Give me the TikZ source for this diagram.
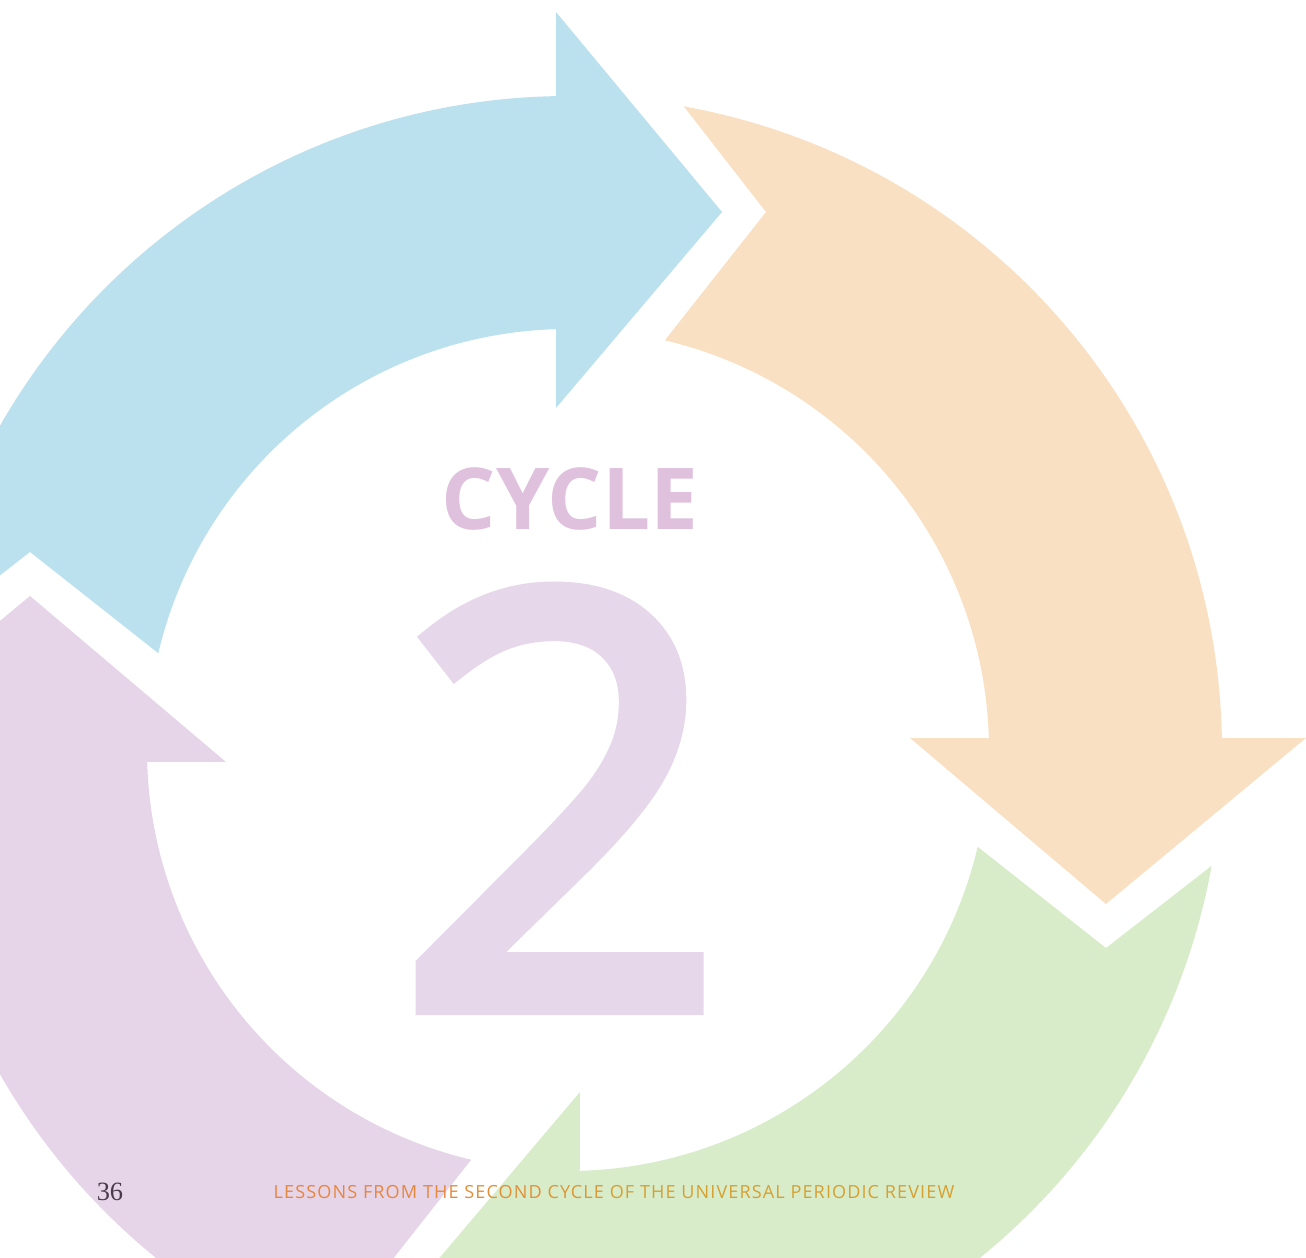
\documentclass[tikz,border=0pt]{standalone}
\usepackage{fontspec}
\usepackage{tikz}
\usetikzlibrary{positioning}
\newfontfamily\headfont{Open Sans}
\newfontfamily\numfont{Open Sans}[FakeBold=3.5]
\newfontfamily\runfont{Open Sans}[LetterSpace=6]
\newfontfamily\pagefont{Liberation Serif}
\definecolor{arrowblue}{RGB}{187,224,238}
\definecolor{arrowpeach}{RGB}{250,224,194}
\definecolor{arrowgreen}{RGB}{216,236,202}
\definecolor{arrowpink}{RGB}{230,212,232}
\definecolor{cycletext}{RGB}{223,192,221}
\definecolor{numbertext}{RGB}{230,216,234}
\definecolor{footorange}{RGB}{232,134,60}
\definecolor{footgold}{RGB}{214,160,48}
\definecolor{pagetext}{RGB}{74,56,76}

\begin{document}
\begin{tikzpicture}[
    x=0.02cm, y=0.02cm,
    title/.style={font=\headfont\bfseries\fontsize{48.6}{50}\selectfont, text=cycletext, inner sep=0pt, anchor=base},
    bignum/.style={font=\numfont\fontsize{325}{325}\selectfont, text=numbertext, inner sep=0pt, anchor=base},
    running/.style={font=\runfont\fontsize{10.3}{12}\selectfont, inner sep=0pt, anchor=base},
    pageno/.style={font=\pagefont\fontsize{15}{17}\selectfont, text=pagetext, inner sep=0pt, anchor=base}
]
    \useasboundingbox (-568,-508) rectangle (738,750);
    \clip (-568,-508) rectangle (738,750);

    % Arrows (one shape, turned a quarter each time)
    \foreach \ang/\col in {0/arrowblue, -90/arrowpeach, -180/arrowgreen, -270/arrowpink} {
        \fill[\col, rotate=\ang] (91.05:654) -- (-12,738) -- (154,538) -- (-12,342)
            -- (91.6:421) arc[start angle=91.6, end angle=166.7, radius=421]
            -- (-538,198) -- (169.8:654) arc[start angle=169.8, end angle=91.05, radius=654] -- cycle;
    }

    % Labels
    \node[title] (cycle) at (2,220) {CYCLE};
    \node[bignum] (two) at (-7,-255) {2};
    \node[running] (footer) at (46,-448) {\color{footorange}LESSONS FROM
        \color{footorange!90!footgold}THE \color{footorange!60!footgold}SECOND
        \color{footorange!30!footgold}CYCLE \color{footgold}OF THE UNIVERSAL PERIODIC REVIEW};
    \node[pageno] (page) at (-458,-450) {36};
\end{tikzpicture}
\end{document}
